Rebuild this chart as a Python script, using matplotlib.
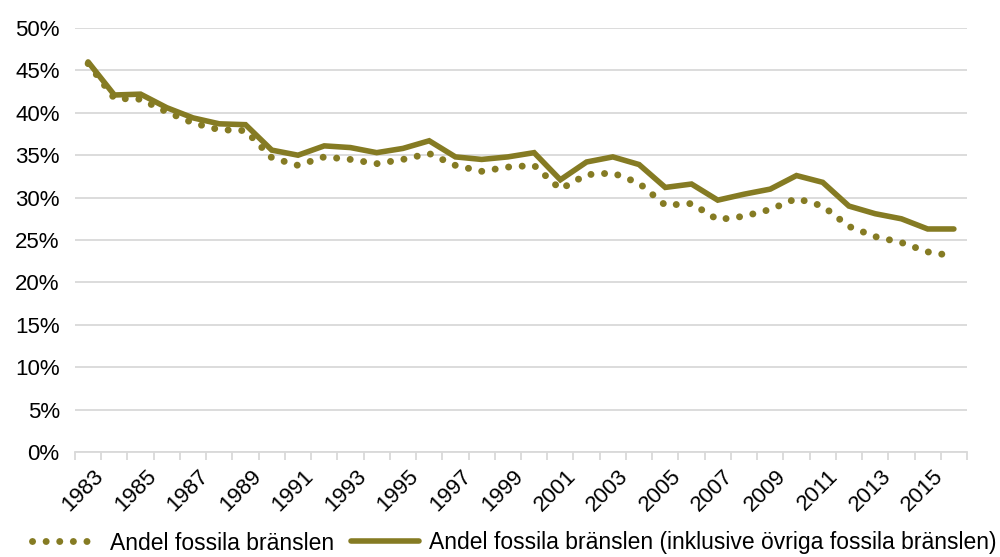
import matplotlib
matplotlib.use("Agg")
import matplotlib.pyplot as plt
from matplotlib.ticker import FixedLocator, FuncFormatter
import matplotlib.transforms as mtransforms

plt.rcParams['font.family'] = ['Liberation Sans', 'DejaVu Sans']

years = list(range(1983, 2017))
fossil = [45.8, 41.7, 41.6, 40.1, 38.8, 38.0, 37.9, 34.7, 33.8, 34.8,
          34.5, 34.0, 34.5, 35.2, 33.8, 33.1, 33.6, 33.8, 31.0, 32.7,
          32.9, 31.7, 29.1, 29.3, 27.4, 27.8, 28.6, 29.9, 29.0, 26.6,
          25.4, 24.7, 23.6, 23.1]
fossil_incl = [46.0, 42.1, 42.2, 40.6, 39.4, 38.7, 38.6, 35.6, 35.0, 36.1,
               35.9, 35.3, 35.8, 36.7, 34.8, 34.5, 34.8, 35.3, 32.1, 34.2,
               34.8, 33.9, 31.2, 31.6, 29.7, 30.4, 31.0, 32.6, 31.8, 29.0,
               28.1, 27.5, 26.3, 26.3]
label_fossil = "Andel fossila bränslen"
label_incl = "Andel fossila bränslen (inklusive övriga fossila bränslen)"
yticks = [0, 5, 10, 15, 20, 25, 30, 35, 40, 45, 50]

color = '#857b23'
FS = 16

fig = plt.figure(figsize=(10, 5.57), dpi=100)
ax = fig.add_axes([0.075, 1 - 452/557, 0.892, (452 - 28)/557])

x = list(range(len(years)))
ax.plot(x, fossil, color=color, linewidth=5.0, linestyle=(0, (0.01, 1.95)),
        dash_capstyle='round', label=label_fossil)
ax.plot(x, fossil_incl, color=color, linewidth=4.0, solid_capstyle='round',
        solid_joinstyle='miter', label=label_incl)

ax.set_xlim(-0.5, len(years) - 0.5)
ax.set_ylim(0, 50)
ax.set_yticks(yticks)
ax.yaxis.set_major_formatter(FuncFormatter(lambda v, p: f"{int(v)}%"))
ax.grid(axis='y', color='#d9d9d9', linewidth=1.3)
ax.set_axisbelow(True)
for s in ['top', 'right', 'left']:
    ax.spines[s].set_visible(False)
ax.spines['bottom'].set_color('#d9d9d9')
ax.spines['bottom'].set_linewidth(1.3)
ax.tick_params(axis='y', length=0, pad=11, labelsize=FS, labelcolor='#000000')

# category boundary ticks
ax.xaxis.set_major_locator(FixedLocator([i - 0.5 for i in range(len(years) + 1)]))
ax.xaxis.set_major_formatter(FuncFormatter(lambda v, p: ""))
ax.tick_params(axis='x', which='major', length=6, width=1.3, color='#d9d9d9')
ax.xaxis.set_minor_locator(FixedLocator(x[::2]))
ax.xaxis.set_minor_formatter(FuncFormatter(lambda v, p: str(years[int(round(v))])))
ax.tick_params(axis='x', which='minor', length=0, pad=10, labelsize=FS)
offset = mtransforms.ScaledTranslation(5/100, 0, fig.dpi_scale_trans)
for lbl in ax.xaxis.get_minorticklabels():
    lbl.set_rotation(45)
    lbl.set_ha('right')
    lbl.set_va('top')
    lbl.set_rotation_mode('anchor')
    lbl.set_transform(lbl.get_transform() + offset)

fig.legend(loc='center', bbox_to_anchor=(0.514, 1 - 543/557), ncol=2, frameon=False,
           fontsize=16.5, handlelength=2.95, handletextpad=0.45, columnspacing=0.75,
           borderpad=0)

fig.savefig('out.png', dpi=100)
